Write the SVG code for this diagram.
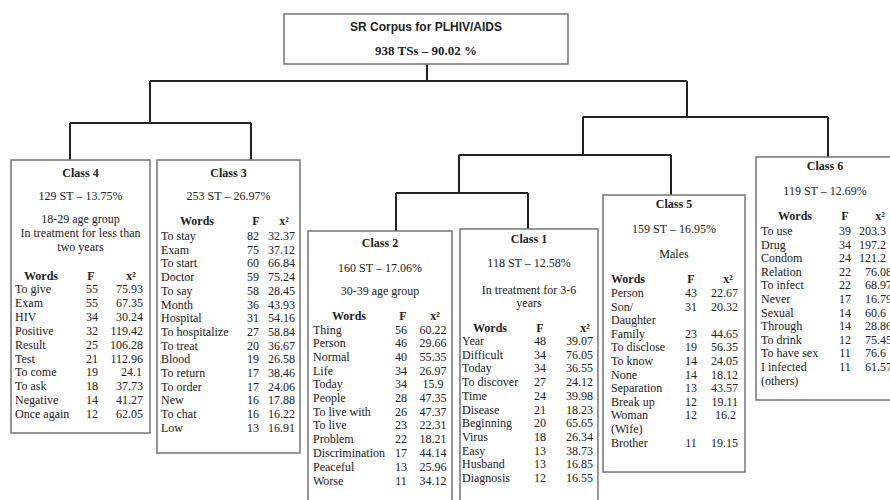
<svg xmlns="http://www.w3.org/2000/svg" width="890" height="500" viewBox="0 0 890 500">
<style>
.bg{fill:#fff}
.box{fill:#fff;stroke:#747474;stroke-width:1.5}
.conn{stroke:#222;stroke-width:2;fill:none}
text{font-family:"Liberation Serif","Times New Roman",serif;font-size:12px;fill:#222}
.b{font-weight:bold}
.c{text-anchor:middle}
.r{text-anchor:end}
.sans{font-family:"Liberation Sans",Arial,sans-serif}
</style>
<rect class="bg" x="0" y="0" width="890" height="500"/>
<g id="connectors">
<path class="conn" d="M427,64V81 M150,81H687 M150,81V123 M70,123H251 M70,123V160 M251,123V160 M687,81V117 M583,117H828 M828,117V157 M583,117V155 M459,155H671 M459,155V193 M671,155V195 M396,193H528 M396,193V231 M528,193V229"/>
</g>
<g id="root">
<rect class="box" x="284" y="14" width="284" height="50"/>
<text class="b c sans" x="426" y="31">SR Corpus for PLHIV/AIDS</text>
<text class="b c" x="426" y="55" style="font-size:13px">938 TSs – 90.02 %</text>
</g>
<g id="class4">
<rect class="box" x="11" y="160" width="139" height="273"/>
<text class="b c" x="80.5" y="177">Class 4</text>
<text class="c" x="80.5" y="200">129 ST – 13.75%</text>
<text class="c" x="80.5" y="223">18-29 age group</text>
<text class="c" x="80.5" y="237">In treatment for less than</text>
<text class="c" x="80.5" y="251">two years</text>
<text class="b c" x="41" y="279.5">Words</text><text class="b c" x="91" y="279.5">F</text><text class="b c" x="131" y="279.5">x²</text>
<text x="15" y="293">To give</text><text class="c" x="92" y="293">55</text><text class="r" x="143" y="293">75.93</text>
<text x="15" y="306.9">Exam</text><text class="c" x="92" y="306.9">55</text><text class="r" x="143" y="306.9">67.35</text>
<text x="15" y="320.8">HIV</text><text class="c" x="92" y="320.8">34</text><text class="r" x="143" y="320.8">30.24</text>
<text x="15" y="334.7">Positive</text><text class="c" x="92" y="334.7">32</text><text class="r" x="143" y="334.7">119.42</text>
<text x="15" y="348.6">Result</text><text class="c" x="92" y="348.6">25</text><text class="r" x="143" y="348.6">106.28</text>
<text x="15" y="362.5">Test</text><text class="c" x="92" y="362.5">21</text><text class="r" x="143" y="362.5">112.96</text>
<text x="15" y="376.4">To come</text><text class="c" x="92" y="376.4">19</text><text class="r" x="142" y="376.4">24.1</text>
<text x="15" y="390.3">To ask</text><text class="c" x="92" y="390.3">18</text><text class="r" x="143" y="390.3">37.73</text>
<text x="15" y="404.2">Negative</text><text class="c" x="92" y="404.2">14</text><text class="r" x="143" y="404.2">41.27</text>
<text x="15" y="418.1">Once again</text><text class="c" x="92" y="418.1">12</text><text class="r" x="143" y="418.1">62.05</text>
</g>
<g id="class3">
<rect class="box" x="157" y="160" width="143" height="293"/>
<text class="b c" x="228.5" y="177">Class 3</text>
<text class="c" x="228.5" y="200">253 ST – 26.97%</text>
<text class="b c" x="197" y="225">Words</text><text class="b c" x="256" y="225">F</text><text class="b c" x="284" y="225">x²</text>
<text x="161" y="240">To stay</text><text class="c" x="253" y="240">82</text><text class="r" x="295" y="240">32.37</text>
<text x="161" y="253.7">Exam</text><text class="c" x="253" y="253.7">75</text><text class="r" x="295" y="253.7">37.12</text>
<text x="161" y="267.4">To start</text><text class="c" x="253" y="267.4">60</text><text class="r" x="295" y="267.4">66.84</text>
<text x="161" y="281.1">Doctor</text><text class="c" x="253" y="281.1">59</text><text class="r" x="295" y="281.1">75.24</text>
<text x="161" y="294.8">To say</text><text class="c" x="253" y="294.8">58</text><text class="r" x="295" y="294.8">28.45</text>
<text x="161" y="308.5">Month</text><text class="c" x="253" y="308.5">36</text><text class="r" x="295" y="308.5">43.93</text>
<text x="161" y="322.2">Hospital</text><text class="c" x="253" y="322.2">31</text><text class="r" x="295" y="322.2">54.16</text>
<text x="161" y="335.9">To hospitalize</text><text class="c" x="253" y="335.9">27</text><text class="r" x="295" y="335.9">58.84</text>
<text x="161" y="349.6">To treat</text><text class="c" x="253" y="349.6">20</text><text class="r" x="295" y="349.6">36.67</text>
<text x="161" y="363.3">Blood</text><text class="c" x="253" y="363.3">19</text><text class="r" x="295" y="363.3">26.58</text>
<text x="161" y="377">To return</text><text class="c" x="253" y="377">17</text><text class="r" x="295" y="377">38.46</text>
<text x="161" y="390.7">To order</text><text class="c" x="253" y="390.7">17</text><text class="r" x="295" y="390.7">24.06</text>
<text x="161" y="404.4">New</text><text class="c" x="253" y="404.4">16</text><text class="r" x="295" y="404.4">17.88</text>
<text x="161" y="418.1">To chat</text><text class="c" x="253" y="418.1">16</text><text class="r" x="295" y="418.1">16.22</text>
<text x="161" y="431.8">Low</text><text class="c" x="253" y="431.8">13</text><text class="r" x="295" y="431.8">16.91</text>
</g>
<g id="class2">
<rect class="box" x="308" y="231" width="144" height="280"/>
<text class="b c" x="380" y="247">Class 2</text>
<text class="c" x="380" y="272">160 ST – 17.06%</text>
<text class="c" x="380" y="295">30-39 age group</text>
<text class="b c" x="349" y="320">Words</text><text class="b c" x="403" y="320">F</text><text class="b c" x="435" y="320">x²</text>
<text x="313" y="333.5">Thing</text><text class="c" x="401" y="333.5">56</text><text class="c" x="433" y="333.5">60.22</text>
<text x="313" y="347.2">Person</text><text class="c" x="401" y="347.2">46</text><text class="c" x="433" y="347.2">29.66</text>
<text x="313" y="360.9">Normal</text><text class="c" x="401" y="360.9">40</text><text class="c" x="433" y="360.9">55.35</text>
<text x="313" y="374.6">Life</text><text class="c" x="401" y="374.6">34</text><text class="c" x="433" y="374.6">26.97</text>
<text x="313" y="388.3">Today</text><text class="c" x="401" y="388.3">34</text><text class="c" x="433" y="388.3">15.9</text>
<text x="313" y="402">People</text><text class="c" x="401" y="402">28</text><text class="c" x="433" y="402">47.35</text>
<text x="313" y="415.7">To live with</text><text class="c" x="401" y="415.7">26</text><text class="c" x="433" y="415.7">47.37</text>
<text x="313" y="429.4">To live</text><text class="c" x="401" y="429.4">23</text><text class="c" x="433" y="429.4">22.31</text>
<text x="313" y="443.1">Problem</text><text class="c" x="401" y="443.1">22</text><text class="c" x="433" y="443.1">18.21</text>
<text x="313" y="456.8">Discrimination</text><text class="c" x="401" y="456.8">17</text><text class="c" x="433" y="456.8">44.14</text>
<text x="313" y="470.5">Peaceful</text><text class="c" x="401" y="470.5">13</text><text class="c" x="433" y="470.5">25.96</text>
<text x="313" y="484.5">Worse</text><text class="c" x="401" y="484.5">11</text><text class="c" x="433" y="484.5">34.12</text>
</g>
<g id="class1">
<rect class="box" x="460" y="229" width="138" height="282"/>
<text class="b c" x="529" y="243">Class 1</text>
<text class="c" x="529" y="267">118 ST – 12.58%</text>
<text class="c" x="529" y="294">In treatment for 3-6</text>
<text class="c" x="529" y="307">years</text>
<text class="b c" x="490" y="331.5">Words</text><text class="b c" x="540" y="331.5">F</text><text class="b c" x="585" y="331.5">x²</text>
<text x="462" y="345">Year</text><text class="c" x="540" y="345">48</text><text class="r" x="593" y="345">39.07</text>
<text x="462" y="358.7">Difficult</text><text class="c" x="540" y="358.7">34</text><text class="r" x="593" y="358.7">76.05</text>
<text x="462" y="372.4">Today</text><text class="c" x="540" y="372.4">34</text><text class="r" x="593" y="372.4">36.55</text>
<text x="462" y="386.1">To discover</text><text class="c" x="540" y="386.1">27</text><text class="r" x="593" y="386.1">24.12</text>
<text x="462" y="399.8">Time</text><text class="c" x="540" y="399.8">24</text><text class="r" x="593" y="399.8">39.98</text>
<text x="462" y="413.5">Disease</text><text class="c" x="540" y="413.5">21</text><text class="r" x="593" y="413.5">18.23</text>
<text x="462" y="427.2">Beginning</text><text class="c" x="540" y="427.2">20</text><text class="r" x="593" y="427.2">65.65</text>
<text x="462" y="440.9">Virus</text><text class="c" x="540" y="440.9">18</text><text class="r" x="593" y="440.9">26.34</text>
<text x="462" y="454.6">Easy</text><text class="c" x="540" y="454.6">13</text><text class="r" x="593" y="454.6">38.73</text>
<text x="462" y="468.3">Husband</text><text class="c" x="540" y="468.3">13</text><text class="r" x="593" y="468.3">16.85</text>
<text x="462" y="482">Diagnosis</text><text class="c" x="540" y="482">12</text><text class="r" x="593" y="482">16.55</text>
</g>
<g id="class5">
<rect class="box" x="603" y="195" width="142" height="277"/>
<text class="b c" x="674" y="208">Class 5</text>
<text class="c" x="674" y="233">159 ST – 16.95%</text>
<text class="c" x="674" y="258">Males</text>
<text class="b" x="611" y="283">Words</text><text class="b c" x="691" y="283">F</text><text class="b c" x="728" y="283">x²</text>
<text x="611" y="297">Person</text><text class="c" x="691" y="297">43</text><text class="r" x="738" y="297">22.67</text>
<text x="611" y="310.6">Son/</text><text class="c" x="691" y="310.6">31</text><text class="r" x="738" y="310.6">20.32</text>
<text x="611" y="324.2">Daughter</text>
<text x="611" y="337.8">Family</text><text class="c" x="691" y="337.8">23</text><text class="r" x="738" y="337.8">44.65</text>
<text x="611" y="351.4">To disclose</text><text class="c" x="691" y="351.4">19</text><text class="r" x="738" y="351.4">56.35</text>
<text x="611" y="365">To know</text><text class="c" x="691" y="365">14</text><text class="r" x="738" y="365">24.05</text>
<text x="611" y="378.6">None</text><text class="c" x="691" y="378.6">14</text><text class="r" x="738" y="378.6">18.12</text>
<text x="611" y="392.2">Separation</text><text class="c" x="691" y="392.2">13</text><text class="r" x="738" y="392.2">43.57</text>
<text x="611" y="405.8">Break up</text><text class="c" x="691" y="405.8">12</text><text class="r" x="738" y="405.8">19.11</text>
<text x="611" y="419.4">Woman</text><text class="c" x="691" y="419.4">12</text><text class="r" x="736" y="419.4">16.2</text>
<text x="611" y="433">(Wife)</text>
<text x="611" y="446.6">Brother</text><text class="c" x="691" y="446.6">11</text><text class="r" x="738" y="446.6">19.15</text>
</g>
<g id="class6">
<rect class="box" x="756" y="157" width="150" height="243"/>
<text class="b c" x="825" y="170">Class 6</text>
<text class="c" x="825" y="195">119 ST – 12.69%</text>
<text class="b c" x="795" y="220">Words</text><text class="b c" x="845" y="220">F</text><text class="b c" x="880" y="220">x²</text>
<text x="761" y="235">To use</text><text class="c" x="845" y="235">39</text><text x="859" y="235">203.3</text>
<text x="761" y="248.6">Drug</text><text class="c" x="845" y="248.6">34</text><text x="859" y="248.6">197.2</text>
<text x="761" y="262.2">Condom</text><text class="c" x="845" y="262.2">24</text><text x="859" y="262.2">121.2</text>
<text x="761" y="275.8">Relation</text><text class="c" x="845" y="275.8">22</text><text x="865" y="275.8">76.08</text>
<text x="761" y="289.4">To infect</text><text class="c" x="845" y="289.4">22</text><text x="865" y="289.4">68.97</text>
<text x="761" y="303">Never</text><text class="c" x="845" y="303">17</text><text x="865" y="303">16.79</text>
<text x="761" y="316.6">Sexual</text><text class="c" x="845" y="316.6">14</text><text x="865" y="316.6">60.6</text>
<text x="761" y="330.2">Through</text><text class="c" x="845" y="330.2">14</text><text x="865" y="330.2">28.86</text>
<text x="761" y="343.8">To drink</text><text class="c" x="845" y="343.8">12</text><text x="865" y="343.8">75.45</text>
<text x="761" y="357.4">To have sex</text><text class="c" x="845" y="357.4">11</text><text x="865" y="357.4">76.6</text>
<text x="761" y="371">I infected</text><text class="c" x="845" y="371">11</text><text x="865" y="371">61.57</text>
<text x="761" y="384.6">(others)</text>
</g>
</svg>
